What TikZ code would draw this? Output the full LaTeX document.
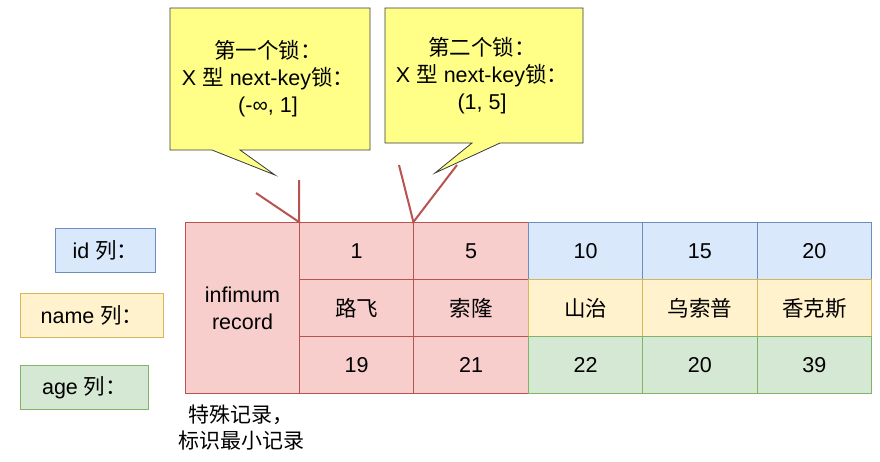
\documentclass[tikz,border=0pt]{standalone}
\usepackage{fontspec}
\setmainfont{Liberation Sans}
\newfontfamily\cjkfont{Noto Sans CJK SC}
\newcommand\zhtxt[1]{{\cjkfont #1}}
\definecolor{redfill}{HTML}{F8CECC}
\definecolor{redline}{HTML}{B85450}
\definecolor{bluefill}{HTML}{DAE8FC}
\definecolor{blueline}{HTML}{6C8EBF}
\definecolor{yelfill}{HTML}{FFF2CC}
\definecolor{yelline}{HTML}{D6B656}
\definecolor{grnfill}{HTML}{D5E8D4}
\definecolor{grnline}{HTML}{82B366}
\definecolor{notefill}{HTML}{FFFF88}
\definecolor{noteline}{HTML}{36393D}
\tikzset{
  cell/.style={draw, line width=1pt, minimum width=114.4pt, minimum height=57pt, inner sep=0pt, anchor=north west},
  redcell/.style={cell, fill=redfill, draw=redline},
  bluecell/.style={cell, fill=bluefill, draw=blueline},
  yelcell/.style={cell, fill=yelfill, draw=yelline},
  grncell/.style={cell, fill=grnfill, draw=grnline},
  label/.style={draw, line width=1pt, inner sep=0pt, anchor=north west},
  note/.style={draw=noteline, fill=notefill, line width=0.8pt},
  notetext/.style={align=center, inner sep=0pt},
  marker/.style={draw=redline, line width=2pt}
}
\begin{document}
\begin{tikzpicture}[x=1pt,y=-1pt, font=\fontsize{21.5}{27}\selectfont]
\useasboundingbox (0,0) rectangle (880,461);
% callouts
\path[note] (170,8) -- (370,8) -- (370,150) -- (240,150) -- (275,175) -- (212,150) -- (170,150) -- cycle;
\node[notetext] (n1) at (268,79) {\zhtxt{第一个锁：}\\X \zhtxt{型} next-key\zhtxt{锁：}\\(-∞, 1]};
\path[note] (385,8) -- (583,8) -- (583,143) -- (500,143) -- (435,173) -- (472,143) -- (385,143) -- cycle;
\node[notetext] (n2) at (482,76) {\zhtxt{第二个锁：}\\X \zhtxt{型} next-key\zhtxt{锁：}\\(1, 5]};
% left labels
\node[label, fill=bluefill, draw=blueline, minimum width=100pt, minimum height=44pt] (lid) at (55,228) {id \zhtxt{列：}};
\node[label, fill=yelfill, draw=yelline, minimum width=143pt, minimum height=44pt] (lname) at (20,293) {name \zhtxt{列：}};
\node[label, fill=grnfill, draw=grnline, minimum width=128pt, minimum height=44pt] (lage) at (20,365) {age \zhtxt{列：}};
% infimum
\node[cell, fill=redfill, draw=redline, minimum width=114pt, minimum height=171pt, align=center] (inf) at (185,222) {infimum\\record};
% columns
\node[redcell] (a1) at (299,222) {1};
\node[redcell] (a2) at (299,279) {\zhtxt{路飞}};
\node[redcell] (a3) at (299,336) {19};
\node[redcell] (b1) at (413.4,222) {5};
\node[redcell] (b2) at (413.4,279) {\zhtxt{索隆}};
\node[redcell] (b3) at (413.4,336) {21};
\node[bluecell] (c1) at (527.8,222) {10};
\node[yelcell] (c2) at (527.8,279) {\zhtxt{山治}};
\node[grncell] (c3) at (527.8,336) {22};
\node[bluecell] (d1) at (642.2,222) {15};
\node[yelcell] (d2) at (642.2,279) {\zhtxt{乌索普}};
\node[grncell] (d3) at (642.2,336) {20};
\node[bluecell] (e1) at (756.6,222) {20};
\node[yelcell] (e2) at (756.6,279) {\zhtxt{香克斯}};
\node[grncell] (e3) at (756.6,336) {39};
% bottom note
\node[align=center, inner sep=0pt, font=\fontsize{21}{26}\selectfont\cjkfont] (bn) at (241,428) {特殊记录，\\标识最小记录};
% markers
\coordinate (m1top) at (299,180);
\coordinate (m1diag) at (256,193);
\coordinate (m1tip) at (a1.north west);
\draw[marker] (m1top) -- (m1tip) -- (m1diag);
\coordinate (m2l) at (399,165);
\coordinate (m2r) at (457,165);
\coordinate (m2tip) at (b1.north west);
\draw[marker] (m2l) -- (m2tip) -- (m2r);
\end{tikzpicture}
\end{document}
